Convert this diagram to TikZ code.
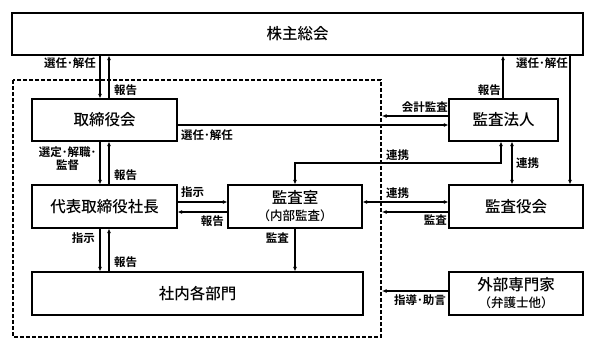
\documentclass[tikz,border=0pt]{standalone}
\usepackage{fontspec}
\setmainfont{Noto Sans CJK JP}[UprightFont={* Medium}, BoldFont={* Bold}]
\usetikzlibrary{arrows.meta}
\newcommand{\mainf}{\fontsize{15.5}{18}\selectfont}
\newcommand{\subf}{\fontsize{12.5}{14}\selectfont}
\newcommand{\lblf}{\fontsize{11.5}{12.5}\selectfont\bfseries}
\tikzset{
  box/.style={draw, line width=1.1pt, inner sep=0pt, font=\mainf, align=center},
  arr/.style={line width=1.2pt, -{Latex[length=4.5pt,width=4pt]}},
  darr/.style={line width=1.2pt, {Latex[length=4.5pt,width=4pt]}-{Latex[length=4.5pt,width=4pt]}},
  lbl/.style={font=\lblf, inner sep=0pt},
  dashbox/.style={line width=1.1pt, dash pattern=on 4pt off 2pt}
}
\begin{document}
\begin{tikzpicture}[x=1pt,y=-1pt]
\useasboundingbox (0,0) rectangle (591,340);
% dashed boundary
\draw[dashbox] (13,80) rectangle (381,337);
% boxes
\node[box, minimum width=571pt, minimum height=42pt] (kabu) at (297.5,34) {株主総会};
\node[box, minimum width=145pt, minimum height=42pt] (tori) at (104.5,120) {取締役会};
\node[box, minimum width=109pt, minimum height=42pt] (hojin) at (503.5,120) {監査法人};
\node[box, minimum width=145pt, minimum height=43pt] (daihyo) at (104.5,206.5) {代表取締役社長};
\node[box, minimum width=134pt, minimum height=43pt] (shitsu) at (295,206.5) {監査室\\[-1pt]{\subf （内部監査）}};
\node[box, minimum width=134pt, minimum height=43pt] (yaku) at (516,206.5) {監査役会};
\node[box, minimum width=331pt, minimum height=43pt] (shanai) at (197.5,293.5) {社内各部門};
\node[box, minimum width=134pt, minimum height=43pt] (gaibu) at (516,293.5) {外部専門家\\[-1pt]{\subf （弁護士他）}};
% helper coordinates
\coordinate (xa) at (100,0);
\coordinate (xb) at (109,0);
\coordinate (xh1) at (501,0);
\coordinate (xh2) at (503,0);
\coordinate (xh3) at (512,0);
\coordinate (xk) at (570,0);
\coordinate (ya) at (0,202);
\coordinate (yb) at (0,212);
\coordinate (yc) at (0,116);
\coordinate (yd) at (0,125);
\coordinate (ye) at (0,291);
\coordinate (mid) at (501,163);
\coordinate (dl1) at (382,116);
\coordinate (dl2) at (382,212);
\coordinate (dl3) at (382,291);
% left column
\draw[arr] (kabu.south -| xa) -- (tori.north -| xa);
\draw[arr] (tori.north -| xb) -- (kabu.south -| xb);
\draw[arr] (tori.south -| xa) -- (daihyo.north -| xa);
\draw[arr] (daihyo.north -| xb) -- (tori.south -| xb);
\draw[arr] (daihyo.south -| xa) -- (shanai.north -| xa);
\draw[arr] (shanai.north -| xb) -- (daihyo.south -| xb);
% daihyo <-> shitsu
\draw[arr] (daihyo.east |- ya) -- (shitsu.west |- ya);
\draw[arr] (shitsu.west |- yb) -- (daihyo.east |- yb);
% shitsu -> shanai
\draw[arr] (shitsu.south) -- (shitsu.south |- shanai.north);
% tori -> hojin
\draw[arr] (tori.east |- yd) -- (hojin.west |- yd);
% hojin -> dashed (会計監査)
\draw[arr] (hojin.west |- yc) -- (dl1);
% hojin -> kabu
\draw[arr] (hojin.north -| xh2) -- (kabu.south -| xh2);
% kabu -> yaku
\draw[arr] (kabu.south -| xk) -- (yaku.north -| xk);
% hojin <-> yaku
\draw[darr] (hojin.south -| xh3) -- (yaku.north -| xh3);
% shitsu <-> hojin
\draw[darr] (shitsu.north) |- (mid) -- (hojin.south -| mid);
% shitsu <-> yaku
\draw[darr] (shitsu.east |- ya) -- (yaku.west |- ya);
% yaku -> dashed
\draw[arr] (yaku.west |- yb) -- (dl2);
% gaibu -> dashed
\draw[arr] (gaibu.west |- ye) -- (dl3);
% labels
\node[lbl, anchor=east] (l1) at (96,63) {選任･解任};
\node[lbl, anchor=west] (l2) at (114,90) {報告};
\node[lbl, anchor=west] (l3) at (181,135) {選任･解任};
\node[lbl, anchor=east] (l4) at (448,107) {会計監査};
\node[lbl, anchor=east] (l5) at (501,90) {報告};
\node[lbl, anchor=east] (l6) at (568,63) {選任･解任};
\node[lbl, anchor=west] (l7) at (516,163) {連携};
\node[lbl, anchor=west] (l8) at (386,155) {連携};
\node[lbl, anchor=west] (l9) at (386,193) {連携};
\node[lbl, anchor=east] (l10) at (447,220) {監査};
\node[lbl, anchor=west] (l11) at (181,192) {指示};
\node[lbl, anchor=east] (l12) at (224,221) {報告};
\node[lbl, align=center] (l13) at (67.5,159) {選定･解職･\\[0.5pt]監督};
\node[lbl, anchor=west] (l14) at (114,175) {報告};
\node[lbl, anchor=east] (l15) at (95,238) {指示};
\node[lbl, anchor=west] (l16) at (114,262) {報告};
\node[lbl, anchor=east] (l17) at (289,238) {監査};
\node[lbl, anchor=east] (l18) at (446,300) {指導･助言};
\end{tikzpicture}
\end{document}
